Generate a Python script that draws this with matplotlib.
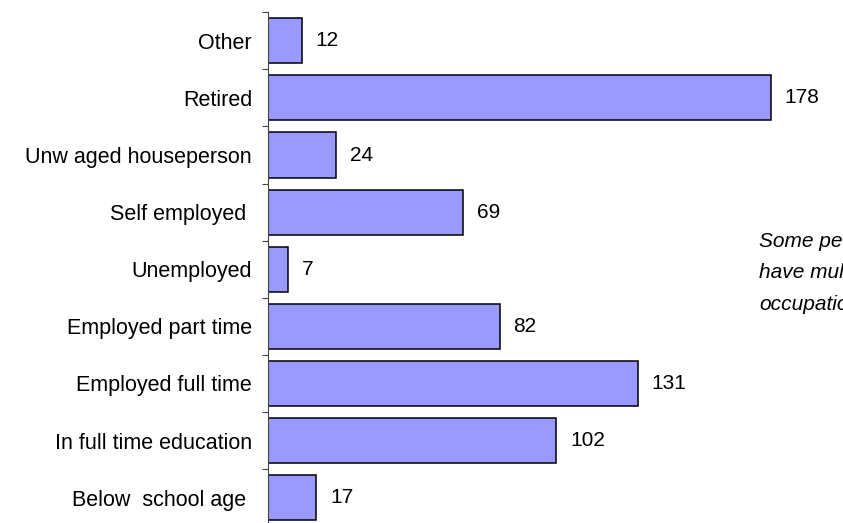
import matplotlib
matplotlib.use('Agg')
import matplotlib.pyplot as plt
import numpy as np

plt.rcParams['font.family'] = ['Liberation Sans', 'DejaVu Sans']

# categories from top to bottom
categories = ['Other', 'Retired', 'Unw aged houseperson', 'Self employed ',
              'Unemployed', 'Employed part time', 'Employed full time',
              'In full time education', 'Below  school age ']
counts = [12, 178, 24, 69, 7, 82, 131, 102, 17]

note = 'Some people\nhave multiple\noccupations'

fig = plt.figure(figsize=(8.43, 5.23), dpi=100)
ax = fig.add_axes([0.3179, -0.0061, 0.6821, 0.9826])

pos = np.arange(len(categories))
ax.barh(pos, counts, height=0.79, color='#9999FF', edgecolor='black',
        linewidth=1.1, zorder=2)

for p, v in zip(pos, counts):
    ax.annotate(str(v), (v, p), xytext=(10, 0), textcoords='offset points',
                va='center', ha='left', fontsize=15)

ax.set_ylim(-0.5, len(categories) - 0.5)
ax.invert_yaxis()
ax.set_xlim(0, 575 / 2.824)

ax.set_yticks(pos)
ax.set_yticklabels(categories, fontsize=15.5)
ax.set_yticks(np.arange(-0.5, len(categories)), minor=True)
ax.tick_params(axis='y', which='major', length=0, pad=11.5)
ax.tick_params(axis='y', which='minor', length=4.3, width=0.8, color='#444444')
ax.set_xticks([])

for side in ['top', 'right', 'bottom']:
    ax.spines[side].set_visible(False)
ax.spines['left'].set_linewidth(0.8)
ax.spines['left'].set_color('#444444')

# note runs off the right edge, as in the original
fig.text(759 / 843, 1 - 273 / 523, note, fontsize=15, style='italic',
         va='center', ha='left', linespacing=1.85)

fig.savefig('out.png', dpi=100)
